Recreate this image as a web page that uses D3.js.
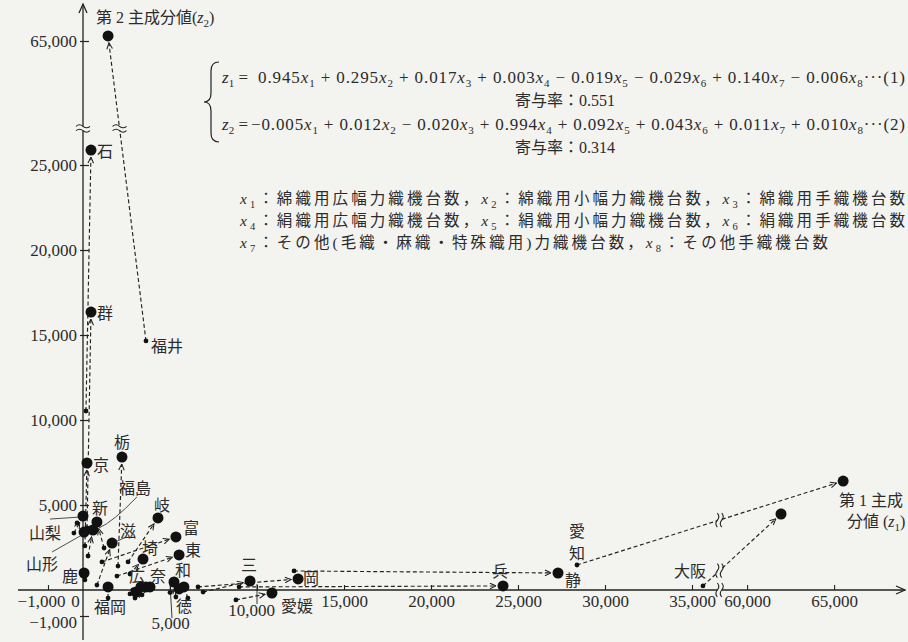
<!DOCTYPE html>
<html>
<head>
<meta charset="utf-8">
<script src="https://cdn.jsdelivr.net/npm/d3@7"></script>
<style>
  body { margin: 0; background: #f3f3f0; }
  svg { display: block; }
  text { fill: #2b2b2b; }
</style>
</head>
<body>
<svg id="chart" width="908" height="642"></svg>
<script>
// ---- data -------------------------------------------------------------
// Prefecture label for each pair (empty = unlabeled point)
const prefectures = ["福井","石","群","京","栃","山梨","山形","福島","新","滋",
                     "岐","富","東","埼","鹿","福岡","広","奈","","",
                     "和","徳","","三","岡","愛媛","静","兵","愛知","大阪"];
// earlier period (small dot) principal-component scores
const z1Start = [3620, 170, 230, 110, 2010, -260, -170, 290, 1210, 800,
                 2590, 1090, 1950, 2700, 110, 1440, 2870, 2990, 2700, 3390,
                 5340, 6030, 5000, 6900, 6610, 8790, 12130, 8970, 28390, 35630];
const z2Start = [14650, 10530, 3650, 2590, 1410, 3350, 3940, 2000, 2470, 290,
                 1650, 1650, 820, 940, 590, -310, 0, -310, -150, -190,
                 -270, -310, -100, -80, 180, -380, 1120, 180, 1470, 240];
// later period (large dot) principal-component scores
const z1End = [1440, 460, 460, 230, 2240, 0, 60, 570, 800, 1670,
               4310, 5340, 5520, 3450, 60, 1440, 3330, 3620, 3050, 3850,
               5230, 5800, 5520, 9600, 12360, 10860, 27300, 24140, 65520, 61950];
const z2End = [65300, 25880, 16350, 7470, 7820, 4350, 3410, 3530, 4000, 2760,
               4240, 3120, 2060, 1820, 1000, 180, 180, 180, -80, 180,
               470, 180, 60, 530, 650, -115, 1000, 240, 6410, 4470];

const xTicks = [-1000, 0, 5000, 10000, 15000, 20000, 25000, 30000, 35000, 60000, 65000];
const yTicks = [-1000, 5000, 10000, 15000, 20000, 25000, 65000];

const loadings1 = [0.945, 0.295, 0.017, 0.003, -0.019, -0.029, 0.140, -0.006];
const loadings2 = [-0.005, 0.012, -0.020, 0.994, 0.092, 0.043, 0.011, 0.010];
const contribution = [0.551, 0.314];
const variableNames = ["綿織用広幅力織機台数","綿織用小幅力織機台数","綿織用手織機台数",
                       "絹織用広幅力織機台数","絹織用小幅力織機台数","絹織用手織機台数",
                       "その他(毛織・麻織・特殊織用)力織機台数","その他手織機台数"];

// ---- layout ------------------------------------------------------------
const serif = "'Liberation Serif','DejaVu Serif','Noto Sans CJK JP',serif";
const jp = "'Liberation Serif','Noto Sans CJK JP',sans-serif";
const ink = "#222";
const paper = "#f3f3f0";

const labelLayout = {
  "福井": {at: "start", dx: 5, dy: 4, anchor: "start"},
  "石": {dx: 6, dy: 0, anchor: "start"},
  "群": {dx: 6, dy: 0, anchor: "start"},
  "京": {dx: 6, dy: 1, anchor: "start"},
  "栃": {dx: 0, dy: -16},
  "山梨": {dx: -38, dy: 16},
  "山形": {dx: -42, dy: 31},
  "福島": {dx: 42, dy: -43},
  "新": {dx: 3, dy: -15},
  "滋": {dx: 16, dy: -13},
  "岐": {dx: 4, dy: -14},
  "富": {dx: 15, dy: -10},
  "東": {dx: 14, dy: -6},
  "埼": {dx: 7, dy: -12},
  "鹿": {dx: -14, dy: 2},
  "福岡": {dx: 2, dy: 19},
  "広": {dx: -4, dy: -12},
  "奈": {dx: 12, dy: -12},
  "和": {dx: 9, dy: -13},
  "徳": {dx: 0, dy: 18},
  "三": {dx: -1, dy: -17},
  "岡": {dx: 13, dy: -2},
  "愛媛": {dx: 25, dy: 12},
  "静": {dx: 15, dy: 6},
  "兵": {dx: -3, dy: -16},
  "愛知": {at: "start", dx: 0, dy: -35, vertical: true, step: 22},
  "大阪": {at: "start", dx: -13, dy: -16}
};
// thin leader lines, relative to the large dot
const leaders = {
  "山梨": {from: [-33, 3], to: [-3, 1]},
  "山形": {from: [-32, 20], to: [3, 0]},
  "福島": {from: [44, -33], bend: [20, -8], to: [6, -2]},
  "滋": {from: [14, -6], to: [3, -1]}
};

const svg = d3.select("#chart");

// piecewise scales with axis breaks
const x = d3.scaleLinear().domain([-1000, 0, 36500, 58500, 70000]).range([48, 83, 718.1, 721, 921.1]);
const y = d3.scaleLinear().domain([-1000, 0, 27000, 60000, 66000]).range([616, 590, 131, 126, 24]);
const x0 = x(0), y0 = y(0);
const xBreak = (x(36500) + x(58500)) / 2;
const yBreak = (y(27000) + y(60000)) / 2;
const fmt = d3.format(",");

// ---- axes lines with arrows -------------------------------------------
const axes = svg.append("g").attr("stroke", ink).attr("fill", "none").attr("stroke-width", 1.3);
axes.append("line").attr("x1", 18).attr("x2", 905).attr("y1", y0).attr("y2", y0);
axes.append("path").attr("d", `M896,${y0 - 4} L905,${y0} L896,${y0 + 4}`);
axes.append("line").attr("x1", x0).attr("x2", x0).attr("y1", 640).attr("y2", 4);
axes.append("path").attr("d", `M${x0 - 4},13 L${x0},4 L${x0 + 4},13`);

// break marks: two short wave strokes, horizontal or vertical
function breakMark(cx, cy, vertical) {
  const g = svg.append("g").attr("transform", `translate(${cx},${cy}) rotate(${vertical ? 90 : 0})`);
  g.append("rect").attr("x", -7).attr("y", -2).attr("width", 14).attr("height", 4).attr("fill", paper);
  [-2.2, 2.2].forEach(k => {
    g.append("path")
      .attr("d", `M-7,${k} Q-3.5,${k - 3} 0,${k} T7,${k}`)
      .attr("fill", "none").attr("stroke", ink).attr("stroke-width", 1.1);
  });
}
breakMark(x0, yBreak, false);
breakMark(xBreak, y0, true);

// ---- tick axes -------------------------------------------------------------
const yAxis = svg.append("g").attr("transform", `translate(${x0},0)`)
  .call(d3.axisLeft(y).tickValues(yTicks).tickFormat(fmt).tickSizeInner(3).tickSizeOuter(0).tickPadding(3));
yAxis.select(".domain").remove();
yAxis.selectAll(".tick line").attr("x1", 6).attr("stroke", ink).attr("stroke-width", 1.2);
yAxis.selectAll(".tick text").attr("font-family", serif).attr("font-size", 17).attr("fill", "#2b2b2b");
yAxis.selectAll(".tick").filter(d => d === -1000).select("text").attr("y", 6);

const xAxis = svg.append("g").attr("transform", `translate(0,${y0})`)
  .call(d3.axisBottom(x).tickValues(xTicks).tickFormat(fmt).tickSizeInner(-5).tickSizeOuter(0).tickPadding(5));
xAxis.select(".domain").remove();
xAxis.selectAll(".tick line").attr("stroke", ink).attr("stroke-width", 1.1);
xAxis.selectAll(".tick text").attr("font-family", serif).attr("font-size", 17).attr("fill", "#2b2b2b");
xAxis.selectAll(".tick").filter(d => d === -1000).select("text").attr("dx", -7);
xAxis.selectAll(".tick").filter(d => d === 0).select("text").attr("dx", -8);
xAxis.selectAll(".tick").filter(d => d === 0).select("line").remove();
xAxis.selectAll(".tick").filter(d => d === 5000).select("text").attr("y", 27);
xAxis.selectAll(".tick").filter(d => d === 10000).select("text").attr("y", 14).attr("dx", -6);
// leaders from the lowered tick labels up to the axis
[[5000, 27], [10000, 13]].forEach(([v, ly]) => {
  svg.append("line")
    .attr("x1", x(v) + (v === 5000 ? 2 : 0)).attr("y1", y0 + ly + 1)
    .attr("x2", x(v)).attr("y2", y0 - 6)
    .attr("stroke", ink).attr("stroke-width", 0.9);
});

// axis titles
const yTitle = svg.append("text").attr("x", 96).attr("y", 23)
  .attr("font-family", jp).attr("font-size", 16);
yTitle.append("tspan").text("第 2 主成分値(");
yTitle.append("tspan").attr("font-style", "italic").attr("font-family", serif).text("z");
yTitle.append("tspan").attr("font-size", 11).attr("dy", 4).text("2");
yTitle.append("tspan").attr("dy", -4).text(")");

svg.append("text").attr("x", 839).attr("y", 506).attr("font-family", jp).attr("font-size", 16).text("第 1 主成");
const xTitle = svg.append("text").attr("x", 847).attr("y", 527).attr("font-family", jp).attr("font-size", 16);
xTitle.append("tspan").text("分値 (");
xTitle.append("tspan").attr("font-style", "italic").attr("font-family", serif).text("z");
xTitle.append("tspan").attr("font-size", 11).attr("dy", 4).text("1");
xTitle.append("tspan").attr("dy", -4).text(")");

// ---- equations block -----------------------------------------------------
svg.append("path")
  .attr("d", "M219,62 Q211,62 211,71 L211,93 Q211,102 204,102 Q211,102 211,111 L211,133 Q211,142 219,142")
  .attr("fill", "none").attr("stroke", ink).attr("stroke-width", 1.2);

function zLabel(yb, idx) {
  const t = svg.append("text").attr("x", 222).attr("y", yb).attr("font-family", serif).attr("font-size", 17);
  t.append("tspan").attr("font-style", "italic").text("z");
  t.append("tspan").attr("font-size", 11).attr("dy", 4).text(idx);
  t.append("tspan").attr("dy", -4).text(" =");
}
function equation(xs, yb, coefs, tag, width) {
  const t = svg.append("text").attr("x", xs).attr("y", yb).attr("font-family", serif).attr("font-size", 17)
    .attr("textLength", width).attr("lengthAdjust", "spacing");
  let shift = 0;
  coefs.forEach((c, i) => {
    const sign = c < 0 ? "−" : (i === 0 ? "" : "+");
    const s = (i === 0 ? sign : " " + sign + " ") + Math.abs(c).toFixed(3);
    t.append("tspan").attr("dy", -shift).text(s);
    t.append("tspan").attr("font-style", "italic").text("x");
    t.append("tspan").attr("font-size", 11).attr("dy", 4).text(i + 1);
    shift = 4;
  });
  t.append("tspan").attr("dy", -shift).text("···(" + tag + ")");
}
zLabel(83, 1);
equation(258, 83, loadings1, 1, 647);
svg.append("text").attr("x", 515).attr("y", 106).attr("font-family", jp).attr("font-size", 16)
  .text("寄与率：" + contribution[0].toFixed(3));
zLabel(130, 2);
equation(251, 130, loadings2, 2, 654);
svg.append("text").attr("x", 515).attr("y", 153).attr("font-family", jp).attr("font-size", 16)
  .text("寄与率：" + contribution[1].toFixed(3));

// variable legend, three lines
const varRows = [[0, 1, 2], [3, 4, 5], [6, 7]];
const varWidths = [665, 665, 588];
varRows.forEach((row, r) => {
  const t = svg.append("text").attr("x", 240).attr("y", 204 + r * 22)
    .attr("font-family", jp).attr("font-size", 15.5)
    .attr("textLength", varWidths[r]).attr("lengthAdjust", "spacing");
  row.forEach((vi, k) => {
    if (k) t.append("tspan").text("，");
    t.append("tspan").attr("font-style", "italic").attr("font-family", serif).text("x");
    t.append("tspan").attr("font-size", 10.5).attr("dy", 4).attr("font-family", serif).text(vi + 1);
    t.append("tspan").attr("dy", -4).text("：" + variableNames[vi]);
  });
});

// ---- connectors, dots, labels ----------------------------------------------
const defs = svg.append("defs");
defs.append("marker").attr("id", "head").attr("viewBox", "0 0 8 8")
  .attr("refX", 7.5).attr("refY", 4).attr("markerWidth", 7).attr("markerHeight", 7)
  .attr("markerUnits", "userSpaceOnUse").attr("orient", "auto")
  .append("path").attr("d", "M0.5,0.8 L7.5,4 L0.5,7.2").attr("fill", "none")
  .attr("stroke", ink).attr("stroke-width", 1.2);

const pts = prefectures.map((name, i) => ({
  name,
  sx: x(z1Start[i]), sy: y(z2Start[i]),
  ex: x(z1End[i]), ey: y(z2End[i])
}));

const bigR = 5.5, smallR = 2.4;
const links = svg.append("g");
pts.forEach(p => {
  const dx = p.ex - p.sx, dy = p.ey - p.sy, len = Math.hypot(dx, dy);
  if (len < 1) return;
  const trim = Math.min(bigR + 1.5, len * 0.4);
  links.append("line")
    .attr("x1", p.sx).attr("y1", p.sy)
    .attr("x2", p.ex - dx / len * trim).attr("y2", p.ey - dy / len * trim)
    .attr("stroke", ink).attr("stroke-width", 1.15).attr("stroke-dasharray", "4,2.6")
    .attr("marker-end", len > 14 ? "url(#head)" : null);
  // break marks where a connector crosses an axis break
  if ((p.sy - yBreak) * (p.ey - yBreak) < 0) {
    const t = (p.sy - yBreak) / (p.sy - p.ey);
    breakMark(p.sx + t * dx, yBreak, false);
  }
  if ((p.sx - xBreak) * (p.ex - xBreak) < 0) {
    const t = (xBreak - p.sx) / dx;
    breakMark(xBreak, p.sy + t * dy, true);
  }
});

const dots = svg.append("g").attr("fill", "#111");
dots.selectAll("circle.s").data(pts).join("circle").attr("class", "s")
  .attr("cx", d => d.sx).attr("cy", d => d.sy).attr("r", smallR);
dots.selectAll("circle.e").data(pts).join("circle").attr("class", "e")
  .attr("cx", d => d.ex).attr("cy", d => d.ey).attr("r", bigR);

// leaders
pts.forEach(p => {
  const L = leaders[p.name];
  if (!L) return;
  const path = d3.path();
  path.moveTo(p.ex + L.from[0], p.ey + L.from[1]);
  if (L.bend) path.quadraticCurveTo(p.ex + L.bend[0], p.ey + L.bend[1], p.ex + L.to[0], p.ey + L.to[1]);
  else path.lineTo(p.ex + L.to[0], p.ey + L.to[1]);
  svg.append("path").attr("d", path.toString()).attr("fill", "none")
    .attr("stroke", ink).attr("stroke-width", 0.8);
});

// labels (vertical ones are stacked one character per text)
const labels = svg.append("g").attr("font-family", "'Noto Sans CJK JP',sans-serif").attr("font-size", 16);
pts.forEach(p => {
  const L = labelLayout[p.name];
  if (!p.name || !L) return;
  const bx = (L.at === "start" ? p.sx : p.ex) + L.dx;
  const by = (L.at === "start" ? p.sy : p.ey) + L.dy;
  const chars = L.vertical ? [...p.name] : [p.name];
  chars.forEach((ch, k) => {
    labels.append("text").attr("x", bx).attr("y", by + k * (L.step || 0))
      .attr("text-anchor", L.anchor || "middle").attr("dominant-baseline", "central")
      .text(ch);
  });
});
</script>
</body>
</html>
